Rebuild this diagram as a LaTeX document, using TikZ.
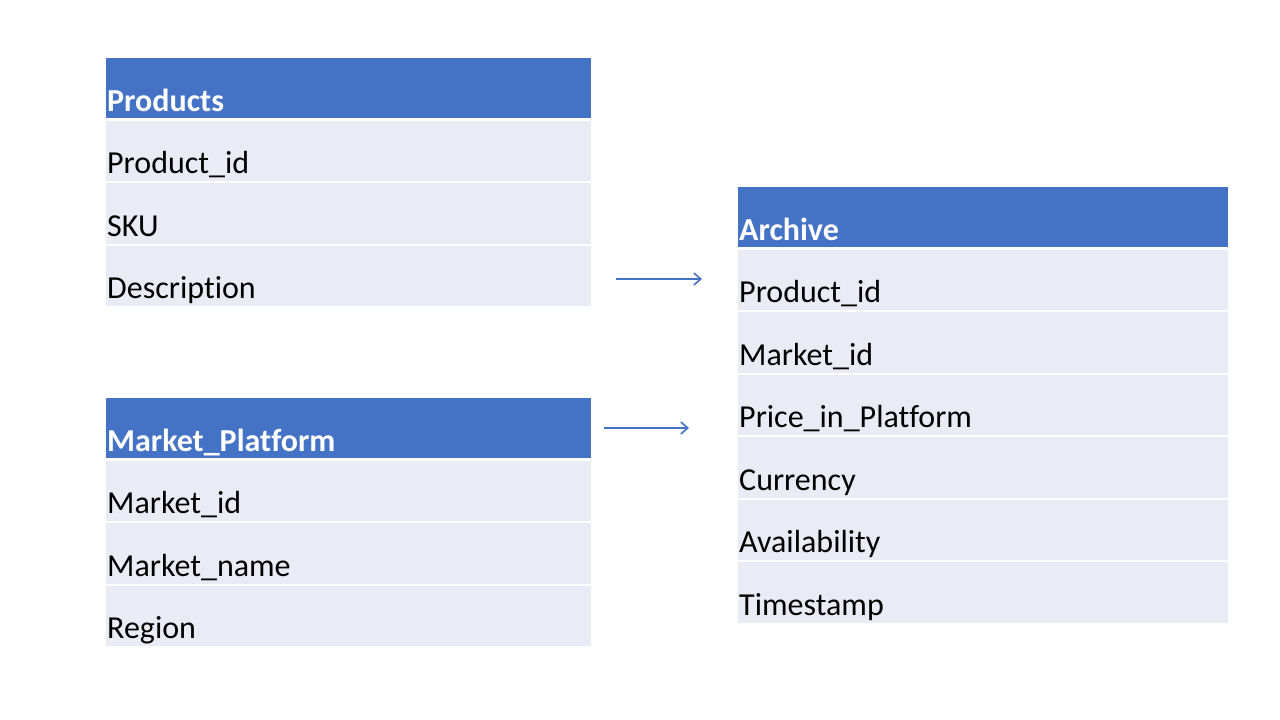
\documentclass[tikz,border=0pt]{standalone}
\usepackage{fontspec}
\setmainfont{Carlito}[Ligatures={NoCommon}]
\usetikzlibrary{arrows.meta}
\definecolor{hdrblue}{HTML}{4472C4}
\definecolor{rowfill}{HTML}{E9EBF5}
\begin{document}
\begin{tikzpicture}[x=1pt,y=-1pt,
  hdrcell/.style={fill=hdrblue, draw=none, inner sep=0, anchor=north west,
    minimum width=\tabw, minimum height=60pt},
  rowcell/.style={fill=rowfill, draw=none, inner sep=0, anchor=north west,
    minimum width=\tabw, minimum height=60.5pt},
  hdrtext/.style={anchor=base west, inner sep=0, text=white,
    font=\fontsize{32}{38}\selectfont\bfseries},
  rowtext/.style={anchor=base west, inner sep=0, text=black,
    font=\fontsize{32}{38}\selectfont},
  link/.style={draw=hdrblue, line width=1.6pt, -{Straight Barb[length=7pt,width=12pt]}}
]
\useasboundingbox[fill=white] (0,0) rectangle (1280,720);

% table: #1 name prefix, #2 left x, #3 top y, #4 width, #5 title, #6 list of fields
\newcommand{\dbtable}[6]{%
  \def\tabw{#4pt}%
  \node[hdrcell] (#1-h) at (#2,#3) {};
  \node[hdrtext] (#1-ht) at (#2+1,#3+53) {#5};
  \foreach \fld [count=\i] in {#6} {
    \node[rowcell] (#1-r\i) at (#2,#3+62.5*\i) {};
    \node[rowtext] (#1-t\i) at (#2+1,#3+62.5*\i+53) {\fld};
  }%
}

\dbtable{prod}{106}{58}{485}{Products}{Product\_id,SKU,Description}
\dbtable{mkt}{106}{398}{485}{Market\_Platform}{Market\_id,Market\_name,Region}
\dbtable{arch}{738}{187}{490}{Archive}{Product\_id,Market\_id,Price\_in\_Platform,Currency,Availability,Timestamp}

% connectors
\coordinate (a1s) at (616,279);
\coordinate (a1e) at (702,279);
\coordinate (a2s) at (604,428);
\coordinate (a2e) at (689,428);
\draw[link] (a1s) -- (a1e);
\draw[link] (a2s) -- (a2e);
\end{tikzpicture}
\end{document}
